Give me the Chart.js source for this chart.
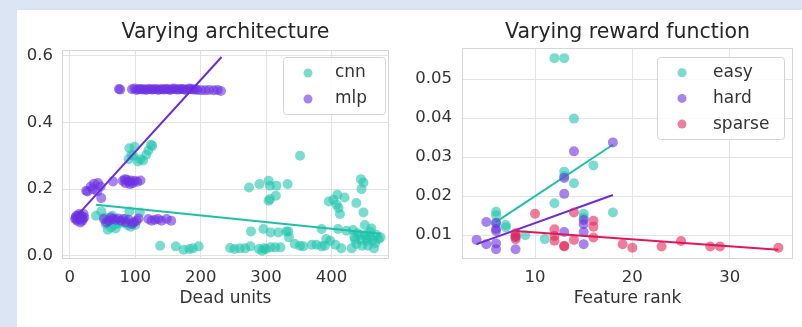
<!DOCTYPE html>
<html><head><meta charset="utf-8">
<script src="https://cdn.jsdelivr.net/npm/chart.js@4/dist/chart.umd.min.js"></script>
<style>
html,body{margin:0;padding:0;background:#dce5f4;width:802px;height:327px;overflow:hidden;}
#panel{position:absolute;left:17px;top:10px;width:785px;height:317px;background:#fff;}
canvas{position:absolute;top:10px;}
#c1{left:17px;}
#c2{left:400px;}
</style></head><body>
<div id="panel"></div>
<canvas id="c1" width="383" height="317"></canvas>
<canvas id="c2" width="402" height="317"></canvas>
<script>
// ---------- Data: left panel (Varying architecture) ----------
const leftTitle = "Varying architecture";
const leftXLabel = "Dead units";
const leftSeries = ["cnn", "mlp"];
const cnnPoints = [
 [91,0.323],[99,0.327],[94,0.303],[104,0.283],[112,0.286],[117,0.303],[120,0.316],[124,0.333],[126,0.33],[97,0.30],[90,0.29],[108,0.29],
 [40,0.12],[48,0.133],[53,0.115],[58,0.078],[58,0.107],[63,0.085],[68,0.092],[70,0.082],[75,0.097],[88,0.092],[91,0.133],[93,0.087],[100,0.092],[107,0.13],[65,0.12],[80,0.1],[55,0.095],[85,0.11],
 [138,0.03],[162,0.028],[174,0.018],[183,0.02],[188,0.022],[197,0.028],
 [245,0.023],[252,0.02],[260,0.022],[268,0.022],[276,0.028],[289,0.02],[294,0.015],[297,0.022],[300,0.02],[307,0.025],[314,0.025],[322,0.025],
 [277,0.073],[296,0.08],[307,0.07],[319,0.07],[331,0.073],
 [274,0.205],[290,0.215],[304,0.225],[306,0.21],[316,0.21],[333,0.215],[315,0.18],[306,0.17],[304,0.165],
 [352,0.30],
 [334,0.073],[335,0.055],[344,0.035],[352,0.03],[357,0.028],[370,0.033],[377,0.033],[385,0.028],[390,0.03],[392,0.05],[398,0.045],[406,0.033],[415,0.022],[385,0.08],
 [396,0.163],[403,0.168],[409,0.183],[420,0.175],[408,0.153],[411,0.143],[413,0.125],[438,0.158],[449,0.13],[445,0.23],[449,0.22],[446,0.2],
 [410,0.08],[423,0.075],[433,0.077],[440,0.067],[451,0.092],[461,0.082],[446,0.048],[454,0.052],[459,0.058],[463,0.048],[467,0.038],[472,0.05],[465,0.022],[447,0.03],[436,0.048],[431,0.022],[438,0.035],[456,0.03],[444,0.062],[435,0.057],[451,0.062],[459,0.072],[469,0.062],[475,0.055],[455,0.045]
];
const mlpPoints = [
 [8,0.11],[10,0.12],[11,0.105],[12,0.115],[13,0.11],[14,0.125],[15,0.11],[16,0.1],[17,0.12],[18,0.115],[19,0.105],[20,0.11],[21,0.125],[9,0.115],[15,0.12],[22,0.115],
 [25,0.195],[27,0.193],[32,0.208],[37,0.216],[43,0.218],[47,0.208],[42,0.193],[48,0.173],[35,0.2],
 [66,0.223],[81,0.225],[84,0.23],[87,0.228],[90,0.222],[93,0.226],[96,0.218],[99,0.225],[103,0.222],[108,0.226],[85,0.218],[92,0.215],
 [52,0.11],[56,0.1],[60,0.105],[63,0.115],[66,0.11],[70,0.108],[74,0.112],[78,0.105],[82,0.11],[86,0.1],[90,0.108],[95,0.095],[98,0.1],[102,0.105],[105,0.112],[120,0.11],[125,0.105],[130,0.108],[135,0.11],[140,0.105],[148,0.11],[155,0.105],
 [75,0.501],[77,0.499],[95,0.5],[99,0.502],[102,0.498],[105,0.5],[108,0.501],[111,0.499],[114,0.5],[117,0.498],[120,0.501],[123,0.5],[126,0.499],[129,0.5],[132,0.501],[135,0.498],[138,0.5],[141,0.5],[144,0.499],[147,0.501],[150,0.5],[153,0.498],[156,0.5],[159,0.502],[162,0.5],[165,0.499],[168,0.5],[171,0.501],[174,0.5],[177,0.498],[180,0.5],[183,0.502],[186,0.5],[189,0.499],[192,0.5],[195,0.498],[201,0.497],[207,0.497],[213,0.498],[220,0.497],[226,0.498],[231,0.495]
];
const cnnFit = [[40,0.153],[475,0.066]];
const mlpFit = [[9,0.116],[232,0.597]];
const leftXTicks = [0,100,200,300,400];
const leftYTicks = [0.0,0.2,0.4,0.6];

// ---------- Data: right panel (Varying reward function) ----------
const rightTitle = "Varying reward function";
const rightXLabel = "Feature rank";
const rightSeries = ["easy", "hard", "sparse"];
const easyPoints = [[12,0.0554],[13,0.0554],[14,0.0399],[13,0.0263],[13,0.0252],[16,0.0279],[14,0.0233],[12,0.0182],[18,0.0158],[15,0.0155],[6,0.016],[6,0.0151],[6,0.0132],[7,0.0126],[7,0.012],[9,0.010],[11,0.009],[15,0.0145]];
const hardPoints = [[18,0.0338],[14,0.0315],[13,0.0247],[13,0.0206],[5,0.0134],[6,0.0131],[6,0.0111],[6,0.0116],[4,0.0088],[5,0.0077],[6,0.0079],[6,0.0064],[8,0.0064],[13,0.0108],[15,0.0139],[15,0.0128],[15,0.0108],[15,0.0077],[8,0.0095]];
const sparsePoints = [[10,0.0155],[14,0.0158],[16,0.0137],[16,0.0122],[12,0.0115],[12,0.0098],[12,0.0086],[8,0.0098],[8,0.009],[8,0.0105],[13,0.0073],[13,0.0071],[14,0.0088],[16,0.0094],[19,0.0077],[20,0.0068],[23,0.0071],[25,0.0085],[28,0.0071],[29,0.0071],[35,0.0068]];
const easyFit = [[6,0.0134],[18,0.0332]];
const hardFit = [[4,0.0077],[18,0.0203]];
const sparseFit = [[8,0.0111],[35,0.0063]];
const rightXTicks = [10,20,30];
const rightYTicks = [0.01,0.02,0.03,0.04,0.05];

// ---------- Styling ----------
const FONT = "'DejaVu Sans', sans-serif";
const TEAL_PT = 'rgba(34,196,174,0.6)', TEAL_LN = '#1fbfa9';
const PURP_PT = 'rgba(108,48,226,0.6)', PURP_LN = '#6a2bd9';
const RED_PT = 'rgba(226,36,88,0.6)', RED_LN = '#e0185a';
const GRID = '#e3e3e3', FRAME = '#d6d6d6', TXT = '#333333';

const toXY = a => a.map(p => ({x:p[0], y:p[1]}));

function scatterDS(label, pts, color, order){
  return {type:'scatter', label, data:toXY(pts), backgroundColor:color, borderColor:'rgba(0,0,0,0)', borderWidth:0, pointRadius:5, pointHoverRadius:5, order};
}
function lineDS(pts, color, order){
  return {type:'line', label:'_fit', data:toXY(pts), borderColor:color, borderWidth:2, pointRadius:0, fill:false, showLine:true, order};
}

const framePlugin = {
  id:'frameAndText',
  beforeDatasetsDraw(chart){
    const a = chart.chartArea, ctx = chart.ctx;
    ctx.save();
    ctx.strokeStyle = FRAME; ctx.lineWidth = 1;
    ctx.strokeRect(Math.round(a.left)+0.5, Math.round(a.top)+0.5, Math.round(a.right-a.left)-1, Math.round(a.bottom-a.top)-1);
    ctx.restore();
  },
  afterDraw(chart){
    const o = chart.options.plugins.frameAndText;
    const a = chart.chartArea, ctx = chart.ctx;
    ctx.save();
    // title
    ctx.fillStyle = '#262626';
    ctx.font = `20.5px ${FONT}`;
    ctx.textAlign = 'center'; ctx.textBaseline = 'middle';
    ctx.fillText(o.title, (a.left+a.right)/2, o.titleY);
    // legend
    const L = o.legend;
    const bx = a.right - L.rightGap - L.w, by = a.top + L.topGap;
    ctx.beginPath();
    if (ctx.roundRect) ctx.roundRect(bx+0.5, by+0.5, L.w, L.h, 3); else ctx.rect(bx+0.5, by+0.5, L.w, L.h);
    ctx.fillStyle = 'rgba(255,255,255,0.85)'; ctx.fill();
    ctx.strokeStyle = '#d4d4d4'; ctx.lineWidth = 1; ctx.stroke();
    ctx.font = `17px ${FONT}`; ctx.textAlign = 'left'; ctx.textBaseline = 'middle';
    L.items.forEach((it, i) => {
      const cy = by + L.first + i*L.step;
      ctx.beginPath(); ctx.arc(bx + L.mx, cy, 4.5, 0, Math.PI*2);
      ctx.fillStyle = it.color; ctx.fill();
      ctx.fillStyle = TXT; ctx.fillText(it.label, bx + L.tx, cy);
    });
    ctx.restore();
  }
};

function makeOptions(cfg){
  return {
    responsive:false, animation:false, devicePixelRatio:1,
    layout:{padding:{top:cfg.top, right:cfg.right, left:0, bottom:0}},
    plugins:{legend:{display:false}, tooltip:{enabled:false},
      frameAndText:{title:cfg.title, titleY:23, legend:cfg.legend}},
    scales:{
      x:{type:'linear', min:cfg.xmin, max:cfg.xmax,
        afterFit(s){ s.height = 68; },
        afterBuildTicks(s){ s.ticks = cfg.xticks.map(v => ({value:v})); },
        grid:{color:GRID, drawTicks:false, lineWidth:1},
        border:{display:false},
        ticks:{padding:8.5, color:TXT, font:{family:FONT, size:16.5}, callback:v => cfg.xfmt(v), maxRotation:0},
        title:{display:true, text:cfg.xlabel, color:TXT, font:{family:FONT, size:17}, padding:{top:0, bottom:18.5}}
      },
      y:{type:'linear', min:cfg.ymin, max:cfg.ymax,
        afterFit(s){ s.width = cfg.yw; },
        afterBuildTicks(s){ s.ticks = cfg.yticks.map(v => ({value:v})); },
        grid:{color:GRID, drawTicks:false, lineWidth:1},
        border:{display:false},
        ticks:{padding:cfg.ypad, color:TXT, font:{family:FONT, size:16.5}, callback:v => cfg.yfmt(v)}
      }
    }
  };
}

new Chart(document.getElementById('c1'), {
  type:'scatter',
  data:{datasets:[
    lineDS(mlpFit, PURP_LN, 0),
    scatterDS(leftSeries[1], mlpPoints, PURP_PT, 1),
    lineDS(cnnFit, TEAL_LN, 2),
    scatterDS(leftSeries[0], cnnPoints, TEAL_PT, 3)
  ]},
  options:makeOptions({
    title:leftTitle, xlabel:leftXLabel, top:40, right:11, yw:45, ypad:9,
    xmin:-12, xmax:488, ymin:-0.01, ymax:0.618,
    xticks:leftXTicks, yticks:leftYTicks,
    xfmt:v => String(v), yfmt:v => Number(v).toFixed(1),
    legend:{w:102, h:57, rightGap:4, topGap:7, first:16, step:26, mx:25, tx:52,
      items:[{label:leftSeries[0], color:TEAL_PT},{label:leftSeries[1], color:PURP_PT}]}
  }),
  plugins:[framePlugin]
});

new Chart(document.getElementById('c2'), {
  type:'scatter',
  data:{datasets:[
    lineDS(sparseFit, RED_LN, 0),
    scatterDS(rightSeries[2], sparsePoints, RED_PT, 1),
    lineDS(hardFit, PURP_LN, 2),
    scatterDS(rightSeries[1], hardPoints, PURP_PT, 3),
    lineDS(easyFit, TEAL_LN, 4),
    scatterDS(rightSeries[0], easyPoints, TEAL_PT, 5)
  ]},
  options:makeOptions({
    title:rightTitle, xlabel:rightXLabel, top:38, right:9, yw:62, ypad:10,
    xmin:2.5, xmax:36.5, ymin:0.0039, ymax:0.058,
    xticks:rightXTicks, yticks:rightYTicks,
    xfmt:v => String(v), yfmt:v => Number(v).toFixed(2),
    legend:{w:127, h:82, rightGap:9, topGap:9, first:15.7, step:25.7, mx:25, tx:56,
      items:[{label:rightSeries[0], color:TEAL_PT},{label:rightSeries[1], color:PURP_PT},{label:rightSeries[2], color:RED_PT}]}
  }),
  plugins:[framePlugin]
});
</script>
</body></html>
